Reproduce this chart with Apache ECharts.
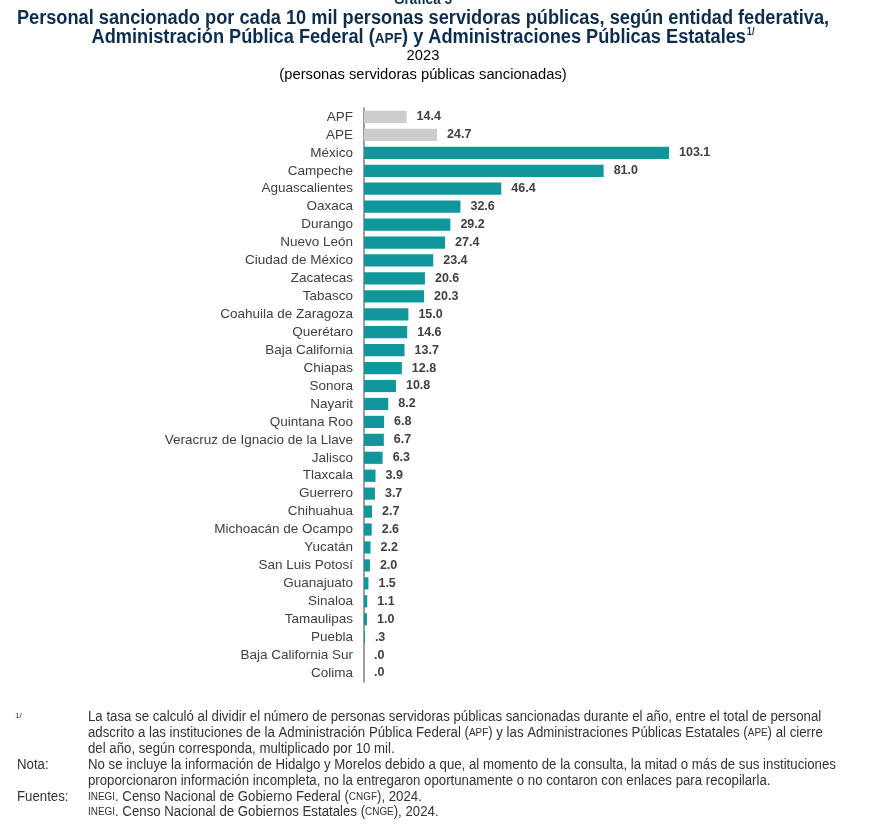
<!DOCTYPE html>
<html>
<head>
<meta charset="utf-8">
<script src="https://cdn.jsdelivr.net/npm/echarts@6/dist/echarts.min.js"></script>
<style>
    html, body {margin: 0; padding: 0; background: #fff;}
    #main {width: 893px; height: 824px;}
</style>
</head>
<body>
<div id="main"></div>
<script>
    // datos
    var categorias = ['APF', 'APE', 'México', 'Campeche', 'Aguascalientes', 'Oaxaca', 'Durango', 'Nuevo León',
        'Ciudad de México', 'Zacatecas', 'Tabasco', 'Coahuila de Zaragoza', 'Querétaro', 'Baja California',
        'Chiapas', 'Sonora', 'Nayarit', 'Quintana Roo', 'Veracruz de Ignacio de la Llave', 'Jalisco',
        'Tlaxcala', 'Guerrero', 'Chihuahua', 'Michoacán de Ocampo', 'Yucatán', 'San Luis Potosí',
        'Guanajuato', 'Sinaloa', 'Tamaulipas', 'Puebla', 'Baja California Sur', 'Colima'];
    var valores = [14.4, 24.7, 103.1, 81.0, 46.4, 32.6, 29.2, 27.4, 23.4, 20.6, 20.3, 15.0, 14.6, 13.7,
        12.8, 10.8, 8.2, 6.8, 6.7, 6.3, 3.9, 3.7, 2.7, 2.6, 2.2, 2.0, 1.5, 1.1, 1.0, 0.3, 0.0, 0.0];
    var grises = ['APF', 'APE'];

    var fuente = '"Liberation Sans", Arial, sans-serif';
    var azul = '#0d2d4f';
    var nota = '#333333';
    var cx = 423;

    // texto centrado y estrechado (la fuente original es condensada)
    function titulo(y, txt, size, bold, sx, fill) {
        return {
            type: 'text', x: cx, y: y, scaleX: sx,
            style: {text: txt, textAlign: 'center', font: (bold ? 'bold ' : '') + size + 'px ' + fuente, fill: fill}
        };
    }

    // renglón de notas, con siglas en versalitas
    function renglon(x, y, txt) {
        return {
            type: 'text', x: x, y: y, scaleX: 0.945,
            style: {
                text: txt,
                rich: {
                    a: {fontSize: 14, fontFamily: fuente, fill: nota},
                    s: {fontSize: 10.5, fontFamily: fuente, fill: nota}
                }
            }
        };
    }

    var chart = echarts.init(document.getElementById('main'));
    chart.setOption({
        animation: false,
        backgroundColor: '#fff',
        grid: {left: 364, top: 108, width: 355, height: 574, containLabel: false},
        xAxis: {type: 'value', min: 0, max: 120, show: false},
        yAxis: {
            type: 'category', inverse: true, data: categorias,
            axisLine: {lineStyle: {color: '#7f7f7f', width: 1.5}},
            axisTick: {show: false},
            axisLabel: {interval: 0, color: '#404040', fontSize: 13.5, fontFamily: fuente, margin: 11}
        },
        series: [{
            type: 'bar', barCategoryGap: '32%',
            data: valores.map(function (v, i) {
                return {value: v, itemStyle: {color: grises.indexOf(categorias[i]) >= 0 ? '#cccccc' : '#11979b'}};
            }),
            label: {
                show: true, position: 'right', distance: 10,
                color: '#404040', fontWeight: 'bold', fontSize: 12.5, fontFamily: fuente,
                formatter: function (p) {
                    return p.value.toFixed(1).replace(/^0\./, '.');
                }
            }
        }],
        graphic: [
            titulo(-8, 'Gráfica 5', 15, true, 0.9, azul),
            titulo(8, 'Personal sancionado por cada 10 mil personas servidoras públicas, según entidad federativa,', 20, true, 0.91, azul),
            {
                type: 'text', x: cx, y: 27, scaleX: 0.91,
                style: {
                    text: '{a|Administración Pública Federal (}{s|APF}{a|) y Administraciones Públicas Estatales}{u|1/}',
                    textAlign: 'center',
                    rich: {
                        a: {fontSize: 20, fontWeight: 'bold', fontFamily: fuente, fill: azul},
                        s: {fontSize: 15, fontWeight: 'bold', fontFamily: fuente, fill: azul, padding: [3, 0, 0, 0]},
                        u: {fontSize: 10, fontWeight: 'bold', fontFamily: fuente, fill: azul, padding: [0, 0, 10, 1]}
                    }
                }
            },
            titulo(48, '2023', 15.5, false, 0.95, '#000'),
            titulo(67, '(personas servidoras públicas sancionadas)', 15.5, false, 0.95, '#000'),

            {type: 'text', x: 15, y: 712, style: {text: '1/', font: '8px ' + fuente, fill: nota}},
            renglon(88, 710, '{a|La tasa se calculó al dividir el número de personas servidoras públicas sancionadas durante el año, entre el total de personal}'),
            renglon(88, 726, '{a|adscrito a las instituciones de la Administración Pública Federal (}{s|APF}{a|) y las Administraciones Públicas Estatales (}{s|APE}{a|) al cierre}'),
            renglon(88, 742, '{a|del año, según corresponda, multiplicado por 10 mil.}'),
            renglon(17, 758, '{a|Nota:}'),
            renglon(88, 758, '{a|No se incluye la información de Hidalgo y Morelos debido a que, al momento de la consulta, la mitad o más de sus instituciones}'),
            renglon(88, 774, '{a|proporcionaron información incompleta, no la entregaron oportunamente o no contaron con enlaces para recopilarla.}'),
            renglon(17, 790, '{a|Fuentes:}'),
            renglon(88, 790, '{s|INEGI}{a|. Censo Nacional de Gobierno Federal (}{s|CNGF}{a|), 2024.}'),
            renglon(88, 805, '{s|INEGI}{a|. Censo Nacional de Gobiernos Estatales (}{s|CNGE}{a|), 2024.}')
        ]
    });
</script>
</body>
</html>
